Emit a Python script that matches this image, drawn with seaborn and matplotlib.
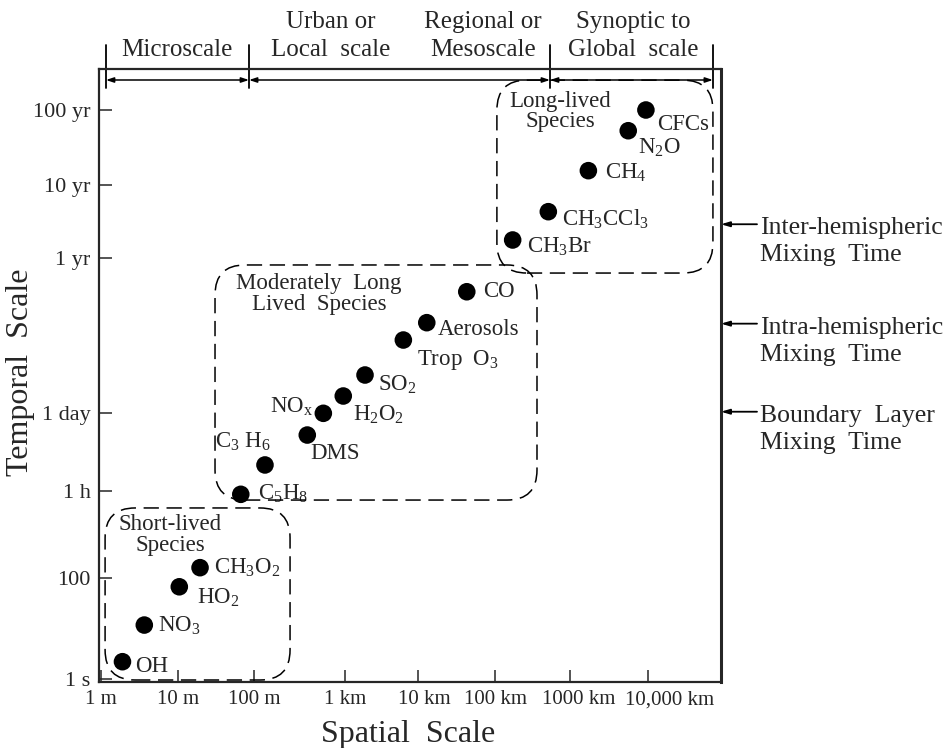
import numpy as np
import matplotlib
matplotlib.use('Agg')
import matplotlib.pyplot as plt
import seaborn as sns
import pandas as pd
from matplotlib import transforms
from matplotlib.patches import FancyBboxPatch
from matplotlib.ticker import FixedLocator, FixedFormatter, NullLocator

DAY = 86400.0
YR = 3.156e7

# species (spatial scale in m, lifetime in s)
species = ['OH', 'NO3', 'HO2', 'CH3O2',
           'C5H8', 'C3H6', 'DMS', 'NOx', 'H2O2', 'SO2', 'Trop O3', 'Aerosols', 'CO',
           'CH3Br', 'CH3CCl3', 'CH4', 'N2O', 'CFCs']
labels = ['OH', r'NO$_3$', r'HO$_2$', r'CH$_3$O$_2$',
          r'C$_5$H$_8$', r'C$_3$ H$_6$', 'DMS', r'NO$_\mathrm{x}$', r'H$_2$O$_2$', r'SO$_2$',
          r'Trop  O$_3$', 'Aerosols', 'CO',
          r'CH$_3$Br', r'CH$_3$CCl$_3$', r'CH$_4$', r'N$_2$O', 'CFCs']
spatial_m = [1.9, 3.65, 10.4, 19.5,
             67, 132, 385, 578, 957, 1880, 6300, 1.3e4, 4.3e4,
             1.72e5, 5.14e5, 1.72e6, 5.58e6, 9.4e6]
temporal_s = [2.2, 11.7, 67, 153,
              3140, 1.04e4, 3.52e4, 8.53e4, 1.65e5, 3.67e5, 1.39e6, 2.69e6, 8.73e6,
              5.57e7, 1.36e8, 4.90e8, 1.67e9, 3.156e9]
group = ['short'] * 4 + ['moderate'] * 9 + ['long'] * 5

# group boxes (x range in m, y range in s)
box_names = ['Short-lived\nSpecies', 'Moderately  Long\nLived  Species', 'Long-lived\nSpecies']
box_x = [(1.13, 249), (30.7, 3.63e5), (1.06e5, 6.8e7)]
box_y = [(0.955, 1790), (2480, 2.42e7), (1.78e7, 7.9e9)]

# axis ticks
x_ticks = [1, 10, 100, 1e3, 1e4, 1e5, 1e6, 1e7]
x_ticklabels = ['1 m', '10 m', '100 m', '1 km', '10 km', '100 km', '1000 km', '10,000 km']
y_ticks = [1, 100, 3600, DAY, YR, 10 * YR, 100 * YR]
y_ticklabels = ['1 s', '100', '1 h', '1 day', '1 yr', '10 yr', '100 yr']

# scale classes on top
scale_edges_m = [1.16, 86, 5.41e5, 6.8e7]
scale_label_x = [9.7, 700, 7.0e4, 6.4e6]
scale_top = ['', 'Urban or', 'Regional or', 'Synoptic to']
scale_bottom = ['Microscale', 'Local  scale', 'Mesoscale', 'Global  scale']

# mixing times on the right
mix_names = ['Inter-hemispheric\nMixing  Time', 'Intra-hemispheric\nMixing  Time',
             'Boundary  Layer\nMixing  Time']
mix_times = [2.9 * YR, 30 * DAY, 1.05 * DAY]

df = pd.DataFrame({'species': species, 'x': spatial_m, 'y': temporal_s, 'group': group})

# the hand drawn axes are not quite logarithmic: calibrate decade by decade
X_LOG = [-0.5, 0, 1, 2, 3, 4, 5, 6, 7, 8.5]
X_PX = [62.5, 101, 178, 254, 345, 418, 495, 570, 648, 765]
Y_LOG = [-0.5, 0, 2, np.log10(3600), np.log10(DAY), np.log10(YR), np.log10(10 * YR),
         np.log10(100 * YR), 10.5]
Y_PX = [-704, -679, -578, -491, -413, -258, -185, -110, -35]


def x_fwd(v):
    return np.interp(np.log10(np.clip(v, 1e-12, None)), X_LOG, X_PX)


def x_inv(p):
    return 10 ** np.interp(p, X_PX, X_LOG)


def y_fwd(v):
    return np.interp(np.log10(np.clip(v, 1e-12, None)), Y_LOG, Y_PX)


def y_inv(p):
    return 10 ** np.interp(p, Y_PX, Y_LOG)


sns.set_style('ticks')
plt.rcParams['font.family'] = ['Liberation Serif', 'DejaVu Serif']
plt.rcParams['mathtext.fontset'] = 'custom'
plt.rcParams['mathtext.rm'] = 'Liberation Serif'
plt.rcParams['mathtext.it'] = 'Liberation Serif:italic'
plt.rcParams['mathtext.bf'] = 'Liberation Serif:bold'

W, H = 953, 748
fig = plt.figure(figsize=(W / 100, H / 100), dpi=100)
ax = fig.add_axes([99 / W, (H - 682) / H, 622 / W, 613 / H])

sns.scatterplot(data=df, x='x', y='y', ax=ax, color='black', s=160, edgecolor='none',
                legend=False, zorder=3, clip_on=False)

ax.set_xscale('function', functions=(x_fwd, x_inv))
ax.set_yscale('function', functions=(y_fwd, y_inv))
ax.set_xlim(x_inv(99), x_inv(721))
ax.set_ylim(y_inv(-682), y_inv(-69))

ax.xaxis.set_major_locator(FixedLocator(x_ticks))
ax.xaxis.set_major_formatter(FixedFormatter(x_ticklabels))
ax.yaxis.set_major_locator(FixedLocator(y_ticks))
ax.yaxis.set_major_formatter(FixedFormatter(y_ticklabels))
ax.xaxis.set_minor_locator(NullLocator())
ax.yaxis.set_minor_locator(NullLocator())
ax.tick_params(axis='x', direction='in', length=9, width=1.1, labelsize=15, pad=6)
ax.tick_params(axis='y', direction='in', length=9, width=1.1, labelsize=16, pad=6)
for sp in ax.spines.values():
    sp.set_linewidth(1.6)
ax.spines['right'].set_linewidth(2.2)

ax.set_xlabel('Spatial  Scale', fontsize=23)
ax.set_ylabel('Temporal  Scale', fontsize=23)
ax.xaxis.set_label_coords(0.497, -0.062)
ax.yaxis.set_label_coords(-0.103, 0.506)

# nudge the crowded x tick labels as in the original
fig.canvas.draw()
label_shift = [0, 0, 0, 0, 6, 0, 9, 22]
for lab, dx in zip(ax.get_xticklabels(), label_shift):
    lab.set_transform(lab.get_transform() + transforms.ScaledTranslation(dx / 100, 0, fig.dpi_scale_trans))

# point labels
offsets = {
    'OH': (13, -5, 'left'), 'NO3': (14, -1, 'left'), 'HO2': (18, -11, 'left'),
    'CH3O2': (14, 0, 'left'), 'C5H8': (17, 0, 'left'), 'C3H6': (-50, 23, 'left'),
    'DMS': (3, -18, 'left'), 'NOx': (-10, 6, 'right'), 'H2O2': (10, -19, 'left'),
    'SO2': (13, -10, 'left'), 'Trop O3': (14, -20, 'left'), 'Aerosols': (11, -7, 'left'),
    'CO': (16, 0, 'left'), 'CH3Br': (14, -7, 'left'), 'CH3CCl3': (14, -8, 'left'),
    'CH4': (17, -2, 'left'), 'N2O': (10, -17, 'left'), 'CFCs': (11, -15, 'left'),
}
for sp, lab, xv, yv in zip(species, labels, spatial_m, temporal_s):
    dx, dy, ha = offsets[sp]
    ax.annotate(lab, xy=(xv, yv), xytext=(dx, dy), textcoords='offset pixels',
                ha=ha, va='center', fontsize=16.5, annotation_clip=False)

# dashed group boxes, drawn in pixels so the corners stay round
title_off = [(65, -27), (104, -29), (63, -31)]
for name, (x0, x1), (y0, y1), (tdx, tdy) in zip(box_names, box_x, box_y, title_off):
    (px0, py0), (px1, py1) = ax.transData.transform([(x0, y0), (x1, y1)])
    box = FancyBboxPatch((px0, py0), px1 - px0, py1 - py0,
                         boxstyle='round,pad=0,rounding_size=30',
                         transform=transforms.IdentityTransform(), fill=False,
                         edgecolor='black', lw=1.1, linestyle=(0, (10, 5)), clip_on=False)
    fig.add_artist(box)
    ax.annotate(name, xy=(x0, y1), xytext=(tdx, tdy), textcoords='offset pixels',
                ha='center', va='center', fontsize=16.5, linespacing=0.95,
                annotation_clip=False)

# scale classes along the top
top = transforms.blended_transform_factory(ax.transData, fig.transFigure)
for xe in scale_edges_m:
    ax.plot([xe, xe], [1 - 45 / H, 1 - 88 / H], transform=top, color='black', lw=1.3,
            clip_on=False)
for xa, xb in zip(scale_edges_m[:-1], scale_edges_m[1:]):
    ax.annotate('', xy=(xb, 1 - 80 / H), xycoords=top, xytext=(xa, 1 - 80 / H),
                textcoords=top,
                arrowprops=dict(arrowstyle='<|-|>,head_length=0.45,head_width=0.15',
                                lw=1.1, color='black', shrinkA=0, shrinkB=0))
for xl, t1, t2 in zip(scale_label_x, scale_top, scale_bottom):
    ax.text(xl, 1 - 22 / H, t1, transform=top, ha='center', va='center', fontsize=18)
    ax.text(xl, 1 - 50 / H, t2, transform=top, ha='center', va='center', fontsize=18)

# mixing times on the right
right = transforms.blended_transform_factory(fig.transFigure, ax.transData)
for name, t in zip(mix_names, mix_times):
    ax.annotate('', xy=(721 / W, t), xycoords=right, xytext=(757 / W, t), textcoords=right,
                arrowprops=dict(arrowstyle='-|>,head_length=0.5,head_width=0.15',
                                lw=1.3, color='black', shrinkA=0, shrinkB=0))
    ax.annotate(name, xy=(760 / W, t), xycoords=right, xytext=(0, 7),
                textcoords='offset pixels', ha='left', va='top', fontsize=18.5,
                linespacing=1.3, annotation_clip=False)

fig.savefig('out.png', dpi=100)
